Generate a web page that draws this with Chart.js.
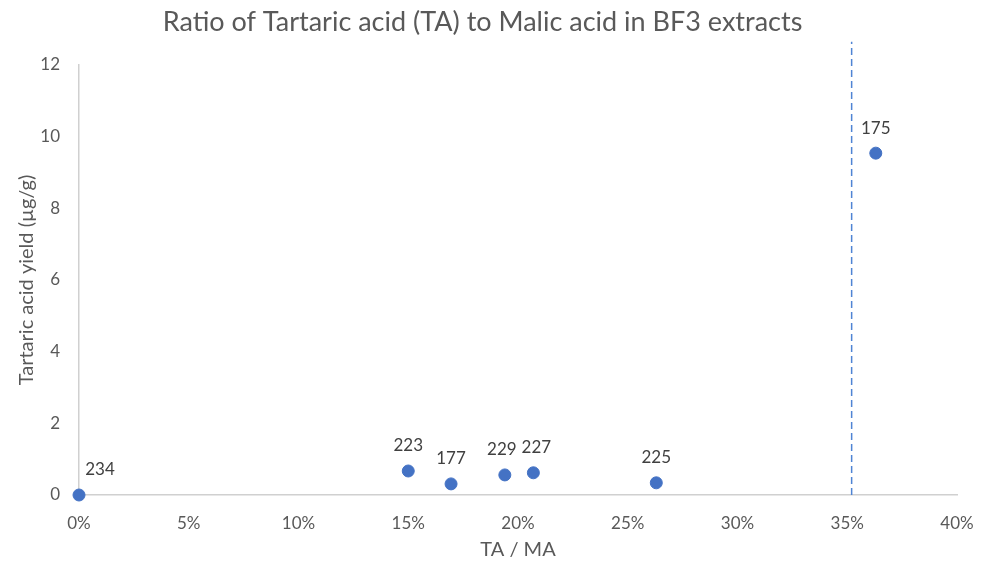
<!DOCTYPE html>
<html>
<head>
<meta charset="utf-8">
<script src="https://cdn.jsdelivr.net/npm/chart.js@4.4.0/dist/chart.umd.min.js"></script>
<style>
    html, body { margin: 0; padding: 0; background: #fff; }
    #wrap { width: 987px; height: 563px; position: relative; }
</style>
</head>
<body>
<div id="wrap"><canvas id="chart"></canvas></div>
<script>
// sample ids, TA/MA ratio and tartaric acid yield (µg/g)
const sampleIds = ["234", "223", "177", "229", "227", "225", "175"];
const taMaRatio = [0.0, 0.150, 0.1695, 0.194, 0.207, 0.263, 0.363];
const taYield = [0.0, 0.67, 0.31, 0.56, 0.62, 0.34, 9.54];

// vertical cutoff line
const cutoffX = [0.352, 0.352];
const cutoffY = [0, 12.65];

const yTicks = [0, 2, 4, 6, 8, 10, 12];

const blue = "#4472C4";
const tickColor = "#595959";
const fontName = "Lato, 'Open Sans', sans-serif";

const points = taMaRatio.map((x, i) => ({ x: x, y: taYield[i] }));
const cutoff = cutoffX.map((x, i) => ({ x: x, y: cutoffY[i] }));

const pointLabels = {
    id: "pointLabels",
    afterDatasetsDraw(chart) {
        const ctx = chart.ctx;
        const meta = chart.getDatasetMeta(0);
        ctx.save();
        ctx.font = "17px " + fontName;
        ctx.fillStyle = "#404040";
        ctx.textAlign = "center";
        ctx.textBaseline = "middle";
        meta.data.forEach((pt, i) => {
            // first label sits to the right of its point, the rest are centred above
            let dx = 0;
            if (i === 0) dx = 21;
            if (i === 3) dx = -3;
            if (i === 4) dx = 3;
            ctx.fillText(sampleIds[i], pt.x + dx, pt.y - 25);
        });
        ctx.restore();
    }
};

new Chart(document.getElementById("chart").getContext("2d"), {
    type: "scatter",
    data: {
        datasets: [
            {
                label: "samples",
                data: points,
                backgroundColor: blue,
                borderColor: blue,
                pointRadius: 6,
                pointHoverRadius: 6,
                clip: false,
                order: 0
            },
            {
                type: "line",
                label: "cutoff",
                data: cutoff,
                borderColor: "#4F84D4",
                borderWidth: 1.5,
                borderDash: [7, 4],
                pointRadius: 0,
                fill: false,
                clip: false,
                order: 1
            }
        ]
    },
    options: {
        responsive: true,
        maintainAspectRatio: false,
        animation: false,
        layout: { padding: { left: 8, right: 30, top: 6, bottom: 1 } },
        plugins: {
            legend: { display: false },
            tooltip: { enabled: false },
            title: {
                display: true,
                text: "Ratio of Tartaric acid (TA) to Malic acid in BF3 extracts",
                color: tickColor,
                font: { family: fontName, size: 27, weight: "normal" },
                padding: { top: 0, bottom: 26.6 }
            }
        },
        scales: {
            x: {
                type: "linear",
                min: 0,
                max: 0.4,
                grid: { display: false },
                border: { display: true, color: "#D0D0D0", width: 1.5 },
                afterFit: axis => { axis.height = 67; },
                ticks: {
                    stepSize: 0.05,
                    color: tickColor,
                    font: { family: fontName, size: 17 },
                    padding: 10,
                    callback: v => Math.round(v * 100) + "%"
                },
                title: {
                    display: true,
                    text: "TA / MA",
                    color: tickColor,
                    font: { family: fontName, size: 20 },
                    padding: { top: 0, bottom: 0 }
                }
            },
            y: {
                min: 0,
                max: 12,
                grid: { display: false },
                border: { display: true, color: "#D0D0D0", width: 1.5 },
                afterFit: axis => { axis.width = 71; },
                afterBuildTicks: axis => { axis.ticks = yTicks.map(v => ({ value: v })); },
                ticks: {
                    color: tickColor,
                    font: { family: fontName, size: 17 },
                    padding: 11
                },
                title: {
                    display: true,
                    text: "Tartaric acid yield (µg/g)",
                    color: tickColor,
                    font: { family: fontName, size: 20 },
                    padding: { top: 7, bottom: 0 }
                }
            }
        }
    },
    plugins: [pointLabels]
});
</script>
</body>
</html>
